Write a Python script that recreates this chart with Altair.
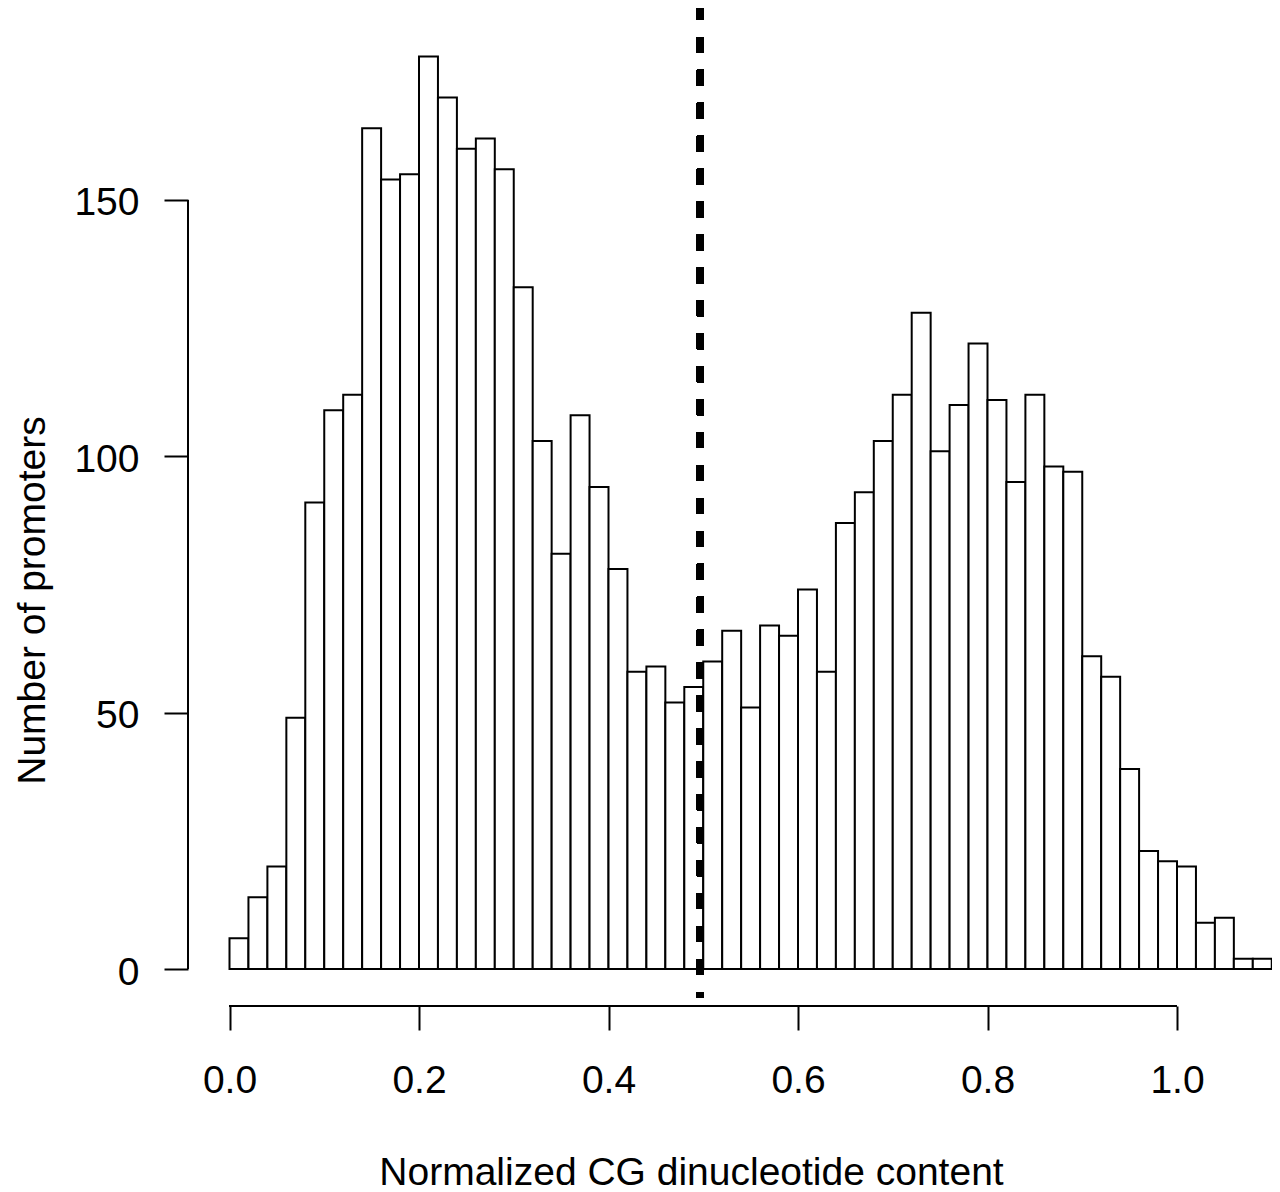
import altair as alt
import pandas as pd

# Histogram counts, bins of width 0.02 starting at 0.00
bin_width = 0.02
counts = [6, 14, 20, 49, 91, 109, 112, 164, 154, 155,
          178, 170, 160, 162, 156, 133, 103, 81, 108, 94,
          78, 58, 59, 52, 55, 60, 66, 51, 67, 65,
          74, 58, 87, 93, 103, 112, 128, 101, 110, 122,
          111, 95, 112, 98, 97, 61, 57, 39, 23, 21,
          20, 9, 10, 2, 2]
x_ticks = [0.0, 0.2, 0.4, 0.6, 0.8, 1.0]
y_ticks = [0, 50, 100, 150]
cutoff = 0.497

starts = [round(i * bin_width, 2) for i in range(len(counts))]
df = pd.DataFrame({"start": starts,
                   "end": [round(s + bin_width, 2) for s in starts],
                   "count": counts})

FONT = "Liberation Sans"
FS = 39
X_DOM = [-0.0438, 1.100263]
Y_DOM = [-7.217, 187.45]

xscale = alt.Scale(domain=X_DOM, nice=False, zero=False)
yscale = alt.Scale(domain=Y_DOM, nice=False, zero=False)

xaxis = alt.Axis(values=x_ticks, format=".1f", domain=False, grid=False,
                 tickSize=24, tickWidth=2, tickColor="black",
                 labelFont=FONT, labelFontSize=FS, labelColor="black",
                 labelPadding=62, labelBaseline="alphabetic",
                 labelFlush=False, labelOverlap=False,
                 title="Normalized CG dinucleotide content",
                 titleFont=FONT, titleFontSize=FS, titleFontWeight="normal",
                 titleColor="black", titleX=503, titleY=178,
                 titleBaseline="alphabetic", titleAlign="center")

yaxis = alt.Axis(values=y_ticks, domain=False, grid=False,
                 tickSize=24, tickWidth=2, tickColor="black",
                 labelFont=FONT, labelFontSize=FS, labelColor="black",
                 labelPadding=25, labelBaseline="middle", labelOffset=3,
                 labelFlush=False, labelOverlap=False,
                 title="Number of promoters",
                 titleFont=FONT, titleFontSize=FS, titleFontWeight="normal",
                 titleColor="black", titleX=-144, titleY=592, titleAngle=270,
                 titleBaseline="alphabetic", titleAlign="center")

bars = alt.Chart(df).mark_rect(fill="white", stroke="black", strokeWidth=2).encode(
    x=alt.X("start:Q", scale=xscale, axis=xaxis),
    x2="end:Q",
    y=alt.Y("count:Q", scale=yscale, axis=yaxis),
    y2=alt.datum(0),
)

x_line = alt.Chart(df).mark_rule(color="black", strokeWidth=2).encode(
    x=alt.datum(x_ticks[0]), x2=alt.datum(x_ticks[-1]), y=alt.datum(Y_DOM[0])
)
y_line = alt.Chart(df).mark_rule(color="black", strokeWidth=2).encode(
    x=alt.datum(X_DOM[0]), y=alt.datum(y_ticks[0]), y2=alt.datum(y_ticks[-1])
)
cut = alt.Chart(df).mark_rule(color="black", strokeWidth=7, strokeCap="butt",
                              strokeDash=[16, 16.93], strokeDashOffset=4).encode(
    x=alt.datum(cutoff), y=alt.datum(Y_DOM[1]), y2=alt.datum(-5.657)
)

chart = alt.layer(bars, x_line, y_line, cut).properties(
    width=1084, height=998,
    autosize=alt.AutoSizeParams(type="none"),
    padding={"left": 180, "top": 0, "right": 0, "bottom": 186},
    background="white",
).configure_view(stroke=None)

chart.save("out.html", embed_options={"renderer": "svg", "actions": False})
